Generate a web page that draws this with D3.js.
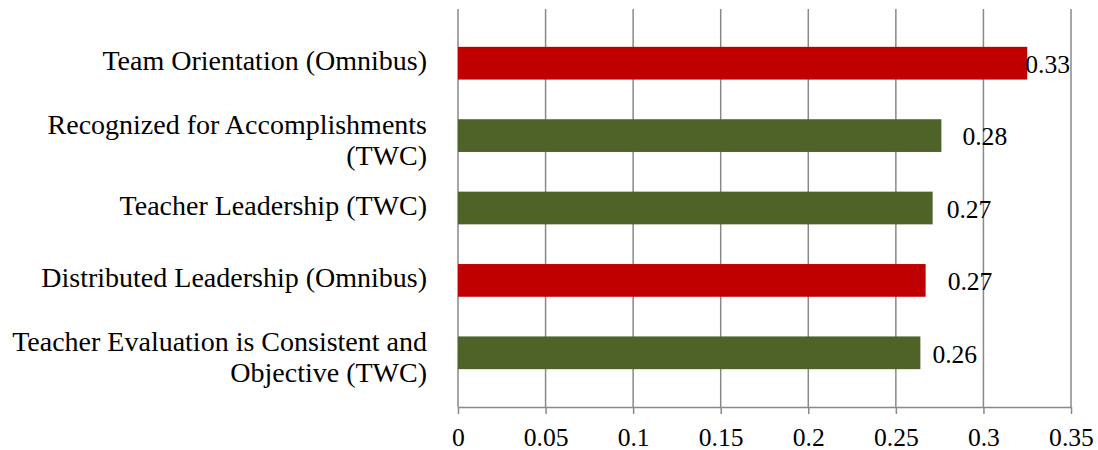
<!DOCTYPE html>
<html>
<head>
<meta charset="utf-8">
<script src="https://cdn.jsdelivr.net/npm/d3@7"></script>
<style>
  html, body { margin: 0; padding: 0; background: #fff; }
  svg { display: block; }
</style>
</head>
<body>
<svg id="chart" width="1098" height="450"></svg>
<script>
// Measures, top to bottom
const categories = [
  ["Team Orientation (Omnibus)"],
  ["Recognized for Accomplishments", "(TWC)"],
  ["Teacher Leadership (TWC)"],
  ["Distributed Leadership (Omnibus)"],
  ["Teacher Evaluation is Consistent and", "Objective (TWC)"]
];
const values = [0.325, 0.276, 0.271, 0.267, 0.264];
const sources = ["Omnibus", "TWC", "TWC", "Omnibus", "TWC"];
const xTicks = [0, 0.05, 0.1, 0.15, 0.2, 0.25, 0.3, 0.35];

const colorBySource = { Omnibus: "#C00000", TWC: "#4F6228" };

// Layout
const FONT = '"Liberation Serif", "Times New Roman", Times, serif';
const plotLeft = 458, plotRight = 1071;
const plotTop = 9, plotBottom = 407;
const bandTop = 27, bandBottom = 389;
const labelFont = 28, numFont = 25.6;
const lineH = 31;
const gridColor = "#898989";
// horizontal nudge of each value label from its bar end
const labelShift = [-2, 21, 14, 22, 12];

const svg = d3.select("#chart");

const x = d3.scaleLinear().domain([0, 0.35]).range([plotLeft, plotRight]);
const y = d3.scaleBand()
  .domain(d3.range(categories.length))
  .range([bandTop, bandBottom])
  .paddingInner(0.548)
  .paddingOuter(0.274);

// vertical gridlines
svg.append("g")
  .selectAll("line")
  .data(xTicks)
  .join("line")
  .attr("x1", d => x(d)).attr("x2", d => x(d))
  .attr("y1", plotTop).attr("y2", plotBottom)
  .attr("stroke", gridColor)
  .attr("stroke-width", 1.5);

// x axis
const xAxis = d3.axisBottom(x)
  .tickValues(xTicks)
  .tickFormat(d => String(+d.toFixed(2)))
  .tickSize(7)
  .tickSizeOuter(0);

const gx = svg.append("g")
  .attr("transform", `translate(0,${plotBottom})`)
  .call(xAxis);
gx.attr("font-family", null).attr("font-size", null);
gx.select(".domain").attr("stroke", gridColor).attr("stroke-width", 1.5);
gx.selectAll(".tick line").attr("stroke", gridColor).attr("stroke-width", 1.5);
gx.selectAll(".tick text")
  .style("font-family", FONT)
  .style("font-size", numFont + "px")
  .attr("fill", "#000")
  .attr("dy", null)
  .attr("y", 38.5);

// bars
svg.append("g")
  .selectAll("rect")
  .data(values)
  .join("rect")
  .attr("x", x(0))
  .attr("y", (d, i) => y(i))
  .attr("width", d => x(d) - x(0))
  .attr("height", y.bandwidth())
  .attr("fill", (d, i) => colorBySource[sources[i]]);

// value labels
svg.append("g")
  .selectAll("text")
  .data(values)
  .join("text")
  .attr("x", (d, i) => x(d) + labelShift[i])
  .attr("y", (d, i) => y(i) + y.bandwidth() / 2 + 9.7)
  .style("font-family", FONT)
  .style("font-size", numFont + "px")
  .attr("fill", "#000")
  .text(d => d3.format(".2f")(d));

// category labels
const cat = svg.append("g")
  .selectAll("text")
  .data(categories)
  .join("text")
  .attr("text-anchor", "end")
  .style("font-family", FONT)
  .style("font-size", labelFont + "px")
  .attr("fill", "#000");

cat.each(function(lines, i) {
  const cy = y(i) + y.bandwidth() / 2;
  const base = cy + 7 - (lines.length - 1) * 9;
  d3.select(this).selectAll("tspan")
    .data(lines)
    .join("tspan")
    .attr("x", 427)
    .attr("y", (l, j) => base + j * lineH)
    .text(l => l);
});
</script>
</body>
</html>
